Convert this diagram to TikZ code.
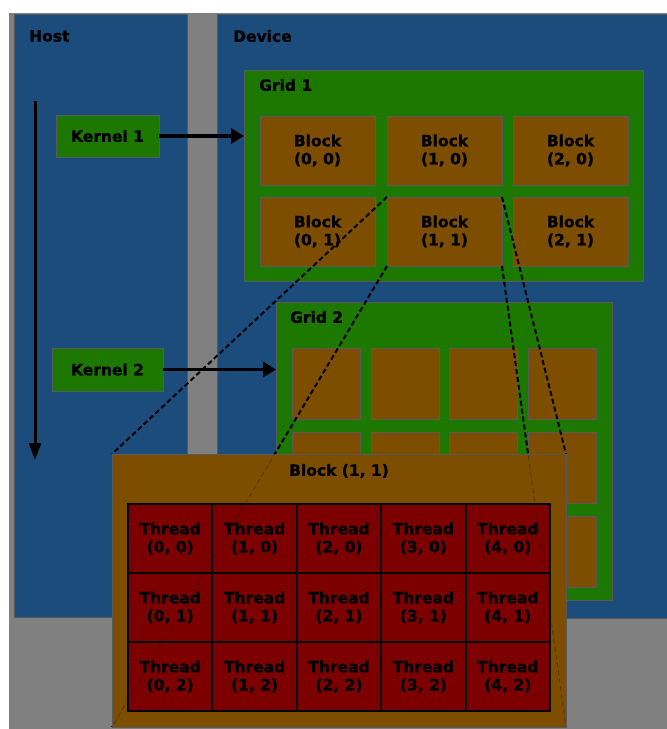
\documentclass[tikz,border=0pt]{standalone}
\usepackage{fontspec}
\setmainfont{DejaVu Sans}[BoldFeatures={FakeBold=1.2}]
\usetikzlibrary{positioning,arrows.meta}

\definecolor{hostblue}{RGB}{28,76,124}
\definecolor{gridgreen}{RGB}{28,120,0}
\definecolor{blockbrown}{RGB}{125,78,0}
\definecolor{threadred}{RGB}{125,0,0}
\definecolor{backgray}{RGB}{128,128,128}

\begin{document}
\begin{tikzpicture}[x=1pt, y=-1pt,
      every node/.style = {font=\fontsize{15.5}{18}\selectfont\bfseries},
      box/.style = {draw=black!65, line width=0.8pt, inner sep=0pt, outer sep=0pt},
      kernel/.style = {box, fill=gridgreen, minimum height=42pt},
      gridbox/.style = {box, fill=gridgreen, anchor=north west},
      bigblock/.style = {box, fill=blockbrown, minimum width=115pt, minimum height=69pt, align=center},
      smallblock/.style = {box, fill=blockbrown, minimum width=68pt, minimum height=71pt},
      thread/.style = {draw=black, line width=2pt, fill=threadred, inner sep=0pt,
        outer sep=0pt, minimum width=84.4pt, minimum height=69pt, align=center},
      label/.style = {anchor=west, inner sep=0pt},
      harrow/.style = {line width=3.2pt, -{Triangle[length=13pt, width=15pt]}},
      zoomline/.style = {line width=2pt, dash pattern=on 5pt off 3pt}]
      \useasboundingbox (0,0) rectangle (667,729);
      \fill[backgray] (9,13) rectangle (667,729);

      \node[box, fill=hostblue, anchor=north west, minimum width=173pt,
        minimum height=603pt] (host) at (14,14) {};
      \node[box, fill=hostblue, anchor=north west, minimum width=460pt,
        minimum height=604pt] (device) at (217,14) {};
      \node[label] (hostlabel) at (29,36) {Host};
      \node[label] (devicelabel) at (233,36) {Device};

      \node[kernel, minimum width=103pt] (k1) at (107.5,136) {Kernel 1};
      \node[kernel, minimum width=111pt, minimum height=43pt] (k2) [below=191pt of k1] {Kernel 2};

      % grid 1
      \node[gridbox, minimum width=399pt, minimum height=211pt] (g1) at (244,70) {};
      \node[label] (g1label) at (259,85) {Grid 1};
      \node[bigblock, anchor=north west] (b00) at (260,116) {Block\\(0, 0)};
      \node[bigblock] (b10) [right=12pt of b00] {Block\\(1, 0)};
      \node[bigblock] (b20) [right=11pt of b10] {Block\\(2, 0)};
      \node[bigblock] (b01) [below=12pt of b00] {Block\\(0, 1)};
      \node[bigblock] (b11) [right=12pt of b01] {Block\\(1, 1)};
      \node[bigblock] (b21) [right=11pt of b11] {Block\\(2, 1)};

      % grid 2
      \node[gridbox, minimum width=336pt, minimum height=298pt] (g2) at (276,302) {};
      \node[label] (g2label) at (290,317) {Grid 2};
      \node[smallblock, anchor=north west] (c00) at (292,348) {};
      \node[smallblock] (c10) [right=11pt of c00] {};
      \node[smallblock] (c20) [right=10pt of c10] {};
      \node[smallblock] (c30) [right=11pt of c20] {};
      \node[smallblock] (c01) [below=13pt of c00] {};
      \node[smallblock] (c11) [right=11pt of c01] {};
      \node[smallblock] (c21) [right=10pt of c11] {};
      \node[smallblock] (c31) [right=11pt of c21] {};
      \node[smallblock] (c02) [below=13pt of c01] {};
      \node[smallblock] (c12) [right=11pt of c02] {};
      \node[smallblock] (c22) [right=10pt of c12] {};
      \node[smallblock] (c32) [right=11pt of c22] {};

      \draw[harrow] (k1.east) -- (k1.east -| g1.west);
      \draw[harrow] (k2.east) -- (k2.east -| g2.west);

      % time line
      \coordinate (tstart) at (35,101);
      \coordinate (tend) at (35,460);
      \draw[line width=3pt, -{Triangle[length=17pt, width=12pt]}] (tstart) -- (tend);

      % block (1, 1) enlarged
      \node[box, fill=blockbrown, anchor=north west, minimum width=454pt,
        minimum height=273pt] (blk) at (112,454) {};
      \draw[zoomline] (b11.north west) -- (blk.north west);
      \draw[zoomline] (b11.south west) -- (blk.south west);
      \draw[zoomline] (b11.north east) -- (blk.north east);
      \draw[zoomline] (b11.south east) -- (blk.south east);
      \node[box, fill=blockbrown, anchor=north west, minimum width=454pt,
        minimum height=273pt] at (112,454) {};
      \node (blklabel) at ([yshift=-17pt]blk.north) {Block (1, 1)};

      \node[thread, anchor=north west] (t00) at (128,504) {Thread\\(0, 0)};
      \node[thread] (t10) [right=0pt of t00] {Thread\\(1, 0)};
      \node[thread] (t20) [right=0pt of t10] {Thread\\(2, 0)};
      \node[thread] (t30) [right=0pt of t20] {Thread\\(3, 0)};
      \node[thread] (t40) [right=0pt of t30] {Thread\\(4, 0)};
      \node[thread] (t01) [below=0pt of t00] {Thread\\(0, 1)};
      \node[thread] (t11) [right=0pt of t01] {Thread\\(1, 1)};
      \node[thread] (t21) [right=0pt of t11] {Thread\\(2, 1)};
      \node[thread] (t31) [right=0pt of t21] {Thread\\(3, 1)};
      \node[thread] (t41) [right=0pt of t31] {Thread\\(4, 1)};
      \node[thread] (t02) [below=0pt of t01] {Thread\\(0, 2)};
      \node[thread] (t12) [right=0pt of t02] {Thread\\(1, 2)};
      \node[thread] (t22) [right=0pt of t12] {Thread\\(2, 2)};
      \node[thread] (t32) [right=0pt of t22] {Thread\\(3, 2)};
      \node[thread] (t42) [right=0pt of t32] {Thread\\(4, 2)};

      % faint part of the zoom lines over the block
      \draw[zoomline, line width=0.8pt, opacity=0.3] (b11.south west) -- (blk.south west);
      \draw[zoomline, line width=0.8pt, opacity=0.3] (b11.north east) -- (blk.north east);
      \draw[zoomline, line width=0.8pt, opacity=0.3] (b11.south east) -- (blk.south east);
    \end{tikzpicture}
\end{document}
